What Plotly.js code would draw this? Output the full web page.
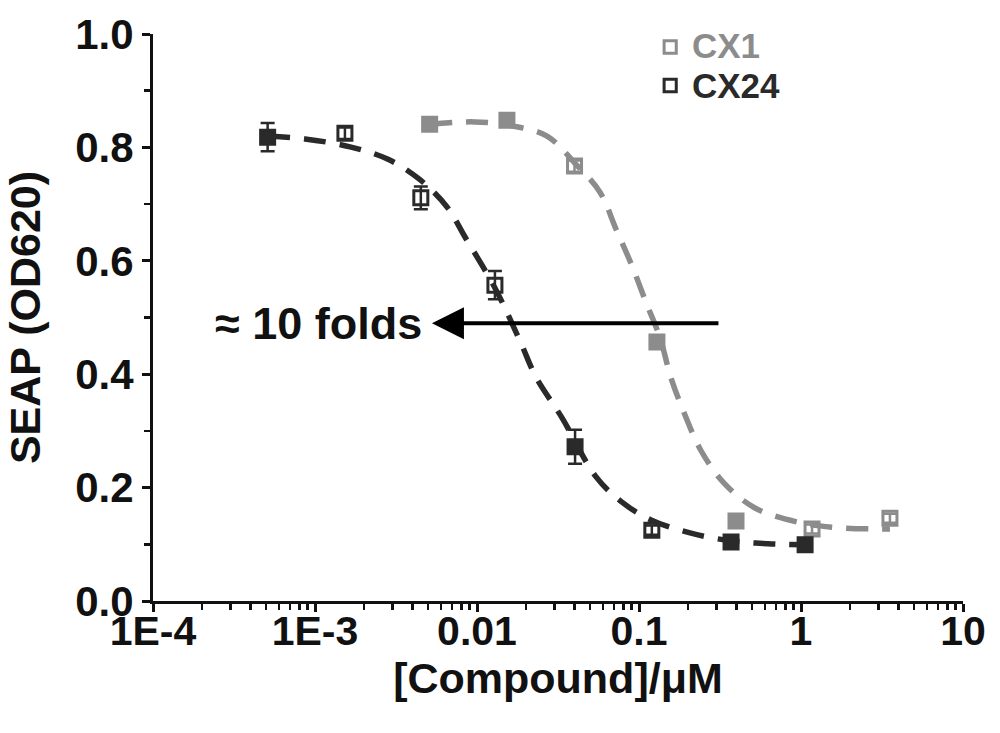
<!DOCTYPE html>
<html>
<head>
<meta charset="utf-8">
<script src="https://cdn.plot.ly/plotly-3.0.1.min.js"></script>
<style>html,body{margin:0;padding:0;background:#fff;}#chart{width:1000px;height:733px;}</style>
</head>
<body>
<div id="chart"></div>
<script>
// Measured points
const cx24X = [0.00051, 0.00153, 0.0045, 0.0129, 0.0403, 0.120, 0.370, 1.06];
const cx24Y = [0.818, 0.825, 0.711, 0.557, 0.272, 0.125, 0.104, 0.099];
const cx24Err = [0.025, 0.010, 0.020, 0.025, 0.030, 0.008, 0.008, 0.008];
const cx24Sym = ['square','square-open','square-open','square-open','square','square-open','square','square'];

const cx1X = [0.0051, 0.0153, 0.040, 0.129, 0.397, 1.17, 3.54];
const cx1Y = [0.841, 0.848, 0.767, 0.457, 0.141, 0.127, 0.146];
const cx1Err = [0.008, 0.008, 0.010, 0.010, 0.010, 0.008, 0.008];
const cx1Sym = ['square','square','square-open','square','square','square-open','square-open'];

// Fitted curves (log10 concentration, response)
const cx24CurveLogX = [-3.290,-3.062,-2.784,-2.549,-2.352,-2.185,-2.074,-1.889,-1.735,-1.636,-1.475,-1.265,-1.099,-0.926,-0.685,-0.432,-0.204,0.025];
const cx24CurveY    = [0.820,0.815,0.801,0.779,0.743,0.695,0.642,0.552,0.459,0.395,0.323,0.219,0.173,0.143,0.120,0.106,0.101,0.099];
const cx1CurveLogX  = [-2.290,-2.012,-1.784,-1.568,-1.395,-1.241,-1.142,-1.043,-0.957,-0.870,-0.802,-0.716,-0.617,-0.475,-0.284,-0.019,0.198,0.457,0.549];
const cx1CurveY     = [0.841,0.845,0.838,0.820,0.772,0.721,0.656,0.591,0.527,0.464,0.393,0.328,0.265,0.208,0.164,0.139,0.130,0.127,0.127];

const seriesNames = ['CX1', 'CX24'];
const xTickVals = [1e-4, 1e-3, 1e-2, 1e-1, 1, 10];
const xTickText = ['1E-4', '1E-3', '0.01', '0.1', '1', '10'];
const yTickVals = [0, 0.2, 0.4, 0.6, 0.8, 1.0];
const yTickText = ['0.0', '0.2', '0.4', '0.6', '0.8', '1.0'];

const arrowTailX = 0.316, arrowHeadX = 0.00527, arrowY = 0.49;

const GRAY = '#8c8c8c', DARK = '#2a2a2a', INK = '#111';
const FONT = '"Liberation Sans", Arial, sans-serif';
const DASH = '22px,14px';

const traces = [
  {x: cx1CurveLogX.map(v => Math.pow(10, v)), y: cx1CurveY, mode: 'lines', line: {color: GRAY, width: 5.5, dash: DASH, shape: 'spline'}, showlegend: false, hoverinfo: 'skip'},
  {x: cx24CurveLogX.map(v => Math.pow(10, v)), y: cx24CurveY, mode: 'lines', line: {color: DARK, width: 5.5, dash: DASH, shape: 'spline'}, showlegend: false, hoverinfo: 'skip'},
  {x: cx1X, y: cx1Y, mode: 'markers', name: seriesNames[0], showlegend: false,
   marker: {symbol: cx1Sym, size: 14, color: GRAY, line: {color: GRAY, width: 3}},
   error_y: {type: 'data', array: cx1Err, visible: true, color: GRAY, thickness: 2.5, width: 7}},
  {x: cx24X, y: cx24Y, mode: 'markers', name: seriesNames[1], showlegend: false,
   marker: {symbol: cx24Sym, size: 14, color: DARK, line: {color: DARK, width: 3}},
   error_y: {type: 'data', array: cx24Err, visible: true, color: DARK, thickness: 2.5, width: 7}}
];

// legend (drawn as shapes + annotations for tight spacing)
const legendRows = [
  {name: seriesNames[0], color: GRAY, y0: 0.966, y1: 0.988, ty: 0.979},
  {name: seriesNames[1], color: DARK, y0: 0.898, y1: 0.920, ty: 0.909}
];
const legendShapes = legendRows.map(r => ({type: 'rect', xref: 'paper', yref: 'paper', x0: 0.631, x1: 0.646, y0: r.y0, y1: r.y1,
  line: {color: r.color, width: 3}, fillcolor: 'rgba(0,0,0,0)'}));
const legendAnn = legendRows.map(r => ({xref: 'paper', yref: 'paper', x: 0.664, y: r.ty, text: r.name, showarrow: false,
  xanchor: 'left', yanchor: 'middle', borderpad: 0, font: {family: FONT, size: 35, color: r.color, weight: 'bold'}}));

const layout = {
  width: 1000, height: 733,
  margin: {l: 153, r: 37, t: 34, b: 132},
  paper_bgcolor: '#fff', plot_bgcolor: '#fff',
  showlegend: false,
  font: {family: FONT, size: 42, color: INK, weight: 'bold'},
  xaxis: {
    type: 'log', range: [-4, 1],
    tickmode: 'array', tickvals: xTickVals, ticktext: xTickText,
    showline: true, linecolor: INK, linewidth: 3, mirror: false,
    ticks: 'outside', ticklen: 8, tickwidth: 3, tickcolor: INK,
    ticklabelstandoff: -16,
    showgrid: false, zeroline: false,
    tickfont: {family: FONT, size: 41, color: INK, weight: 'bold'},
    minor: {dtick: 'D1', ticks: 'outside', ticklen: 6, tickwidth: 2.5, tickcolor: INK, showgrid: false},
    title: {text: '[Compound]/μM', font: {family: FONT, size: 43, color: INK, weight: 'bold'}, standoff: 0}
  },
  yaxis: {
    range: [0, 1],
    tickmode: 'array', tickvals: yTickVals, ticktext: yTickText,
    showline: true, linecolor: INK, linewidth: 3,
    ticks: 'outside', ticklen: 8, tickwidth: 3, tickcolor: INK,
    showgrid: false, zeroline: false,
    tickfont: {family: FONT, size: 42, color: INK, weight: 'bold'},
    minor: {dtick: 0.1, tick0: 0, ticks: 'outside', ticklen: 6, tickwidth: 2.5, tickcolor: INK, showgrid: false},
    title: {text: 'SEAP (OD620)', font: {family: FONT, size: 43, color: INK, weight: 'bold'}, standoff: 22}
  },
  shapes: legendShapes,
  annotations: [
    {x: Math.log10(arrowHeadX), y: arrowY, ax: Math.log10(arrowTailX), ay: arrowY, xref: 'x', yref: 'y', axref: 'x', ayref: 'y',
     text: '', showarrow: true, arrowhead: 2, arrowsize: 1.6, arrowwidth: 4, arrowcolor: '#000'},
    {x: Math.log10(arrowHeadX), y: arrowY, xref: 'x', yref: 'y', text: '≈ 10 folds', showarrow: false,
     xanchor: 'right', yanchor: 'middle', xshift: -8, font: {family: FONT, size: 45, color: INK, weight: 'bold'}}
  ].concat(legendAnn)
};

Plotly.newPlot('chart', traces, layout, {displayModeBar: false, staticPlot: true});
</script>
</body>
</html>
